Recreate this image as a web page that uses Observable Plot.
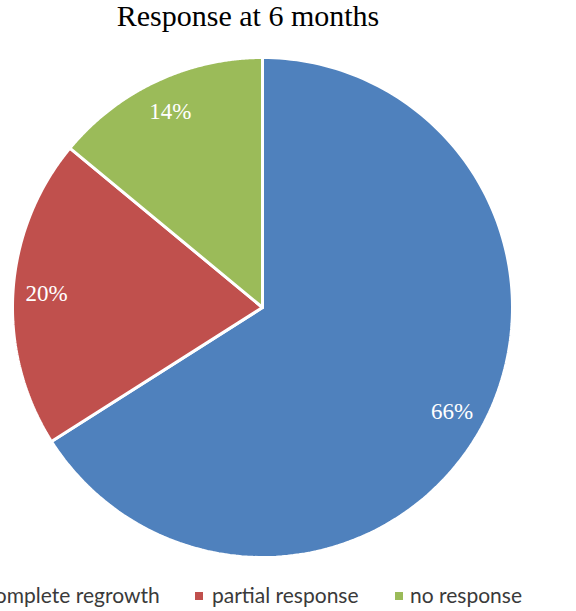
<!DOCTYPE html>
<html><head><meta charset="utf-8">
<script src="https://cdn.jsdelivr.net/npm/d3@7"></script>
<script src="https://cdn.jsdelivr.net/npm/@observablehq/plot@0.6"></script>
<style>
body{margin:0;background:#fff;width:576px;height:611px;overflow:hidden;position:relative;}
#title{position:absolute;top:-1px;left:0;width:496px;text-align:center;font-family:"Liberation Serif","Times New Roman",serif;font-size:30px;color:#000;}
.leg{position:absolute;top:582px;font-family:Lato,"Open Sans",sans-serif;font-size:21px;color:#3a3a3a;white-space:nowrap;}
.sw{position:absolute;top:592px;width:8px;height:8px;}
#chart{position:absolute;top:0;left:0;}
</style></head><body>
<div id="chart"></div>
<div id="title">Response at 6 months</div>
<div id="legend"></div>
<script>
const categories = ["complete regrowth", "partial response", "no response"];
const values = [66, 20, 14];
const labels = ["66%", "20%", "14%"];
const colors = ["#4F81BD", "#C0504D", "#9BBB59"];

const pie = d3.pie().sort(null).value(d => d.value)(categories.map((c, i) => ({category: c, value: values[i], label: labels[i]})));
const polys = [];
const labelPts = [];
for (const a of pie) {
  const n = 180;
  polys.push({category: a.data.category, x: 0, y: 0, k: 0});
  for (let j = 0; j <= n; j++) {
    const t = a.startAngle + (a.endAngle - a.startAngle) * j / n;
    polys.push({category: a.data.category, x: Math.sin(t), y: Math.cos(t), k: j + 1});
  }
  polys.push({category: a.data.category, x: 0, y: 0, k: n + 2});
  const m = (a.startAngle + a.endAngle) / 2;
  labelPts.push({label: a.data.label, x: 0.865 * Math.sin(m), y: 0.865 * Math.cos(m)});
}

const chart = Plot.plot({
  width: 576, height: 611,
  margin: 0,
  x: {domain: [-1, 1], range: [12, 512], axis: null},
  y: {domain: [-1, 1], range: [557, 57], axis: null},
  color: {domain: categories, range: colors},
  marks: [
    Plot.line(polys, {x: "x", y: "y", z: "category", fill: "category", stroke: "white", strokeWidth: 3, strokeLinejoin: "miter", curve: "linear"}),
    Plot.text(labelPts, {x: "x", y: "y", text: "label", fill: "white", fontSize: 23, fontFamily: "Liberation Serif, Times New Roman, serif"})
  ]
});
document.getElementById("chart").appendChild(chart);

const legX = [[-31, -15], [195, 212], [395, 410]];
const leg = document.getElementById("legend");
categories.forEach((c, i) => {
  const s = document.createElement("div");
  s.className = "sw"; s.style.left = legX[i][0] + "px"; s.style.background = colors[i];
  leg.appendChild(s);
  const t = document.createElement("div");
  t.className = "leg"; t.style.left = legX[i][1] + "px"; t.textContent = c;
  leg.appendChild(t);
});
</script>
</body></html>
